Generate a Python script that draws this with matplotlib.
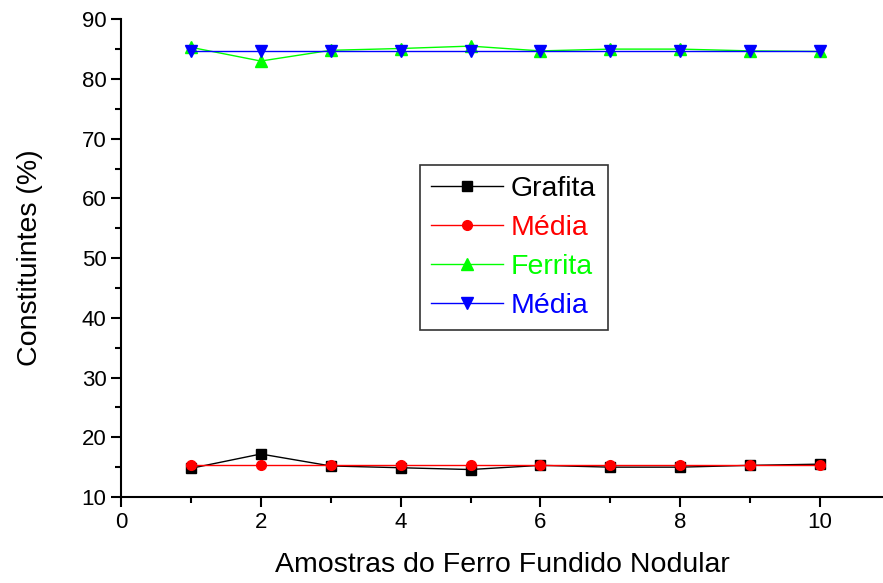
import matplotlib.pyplot as plt
from matplotlib.ticker import MultipleLocator

plt.rcParams['font.family'] = ['Liberation Sans', 'DejaVu Sans']

amostras = [1, 2, 3, 4, 5, 6, 7, 8, 9, 10]
grafita = [14.8, 17.2, 15.2, 14.9, 14.6, 15.3, 15.0, 15.0, 15.3, 15.5]
media_grafita = [15.3, 15.3, 15.3, 15.3, 15.3, 15.3, 15.3, 15.3, 15.3, 15.3]
ferrita = [85.3, 83.0, 84.8, 85.1, 85.5, 84.7, 85.0, 85.0, 84.7, 84.6]
media_ferrita = [84.7, 84.7, 84.7, 84.7, 84.7, 84.7, 84.7, 84.7, 84.7, 84.7]

fig = plt.figure(figsize=(8.83, 5.83), dpi=100)
ax = fig.add_axes([0.137, 0.1475, 0.863, 0.8195])

ax.plot(amostras, grafita, color='black', marker='s', ms=7, lw=1, label='Grafita')
ax.plot(amostras, media_grafita, color='red', marker='o', ms=7, lw=1, label='Média')
ax.plot(amostras, ferrita, color='#00ff00', marker='^', ms=9, lw=1, label='Ferrita')
ax.plot(amostras, media_ferrita, color='blue', marker='v', ms=9, lw=1, label='Média')

ax.set_xlim(0, 10.9)
ax.set_ylim(10, 90)
ax.xaxis.set_major_locator(MultipleLocator(2))
ax.xaxis.set_minor_locator(MultipleLocator(1))
ax.yaxis.set_major_locator(MultipleLocator(10))
ax.yaxis.set_minor_locator(MultipleLocator(5))
ax.spines['top'].set_visible(False)
ax.spines['right'].set_visible(False)
for s in ('left', 'bottom'):
    ax.spines[s].set_linewidth(1.5)
ax.tick_params(which='major', direction='out', length=7, width=1.5, labelsize=16)
ax.tick_params(which='minor', direction='out', length=4, width=1.5)

ax.set_xlabel('Amostras do Ferro Fundido Nodular', fontsize=20.5, labelpad=14)
ax.set_ylabel('Constituintes (%)', fontsize=20.5, labelpad=28)

leg = ax.legend(loc='upper left', bbox_to_anchor=(420 / 883, 1 - 165 / 583),
                bbox_transform=fig.transFigure, fontsize=20.5, fancybox=False,
                framealpha=1, edgecolor='#333333', handlelength=2.5,
                borderpad=0.4, labelspacing=0.45, handletextpad=0.3,
                borderaxespad=0)
leg.get_frame().set_linewidth(1.2)
for txt, c in zip(leg.get_texts(), ['black', 'red', '#00ff00', 'blue']):
    txt.set_color(c)

fig.savefig('out.png', dpi=100)
